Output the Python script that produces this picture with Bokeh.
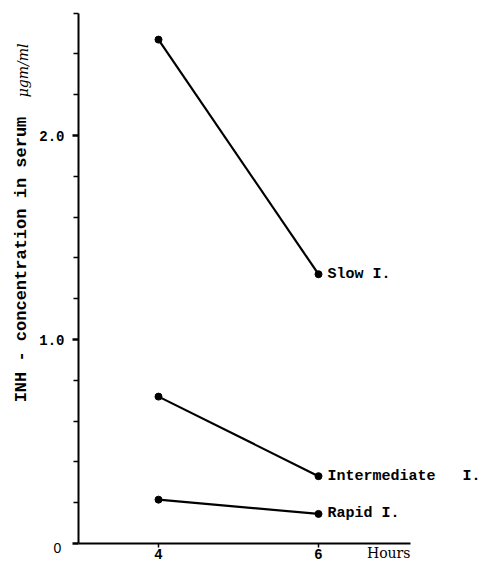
import math
from bokeh.plotting import figure
from bokeh.models import FixedTicker, Label
from bokeh.embed import file_html
from bokeh.resources import INLINE

# ---- data ----
hours = [4, 6]
slow = [2.47, 1.32]
intermediate = [0.72, 0.33]
rapid = [0.215, 0.145]
NB = "\u00a0"
series_names = ["Slow I.", "Intermediate" + NB * 3 + "I.", "Rapid I."]

y_major = [0, 1, 2]
y_major_labels = ["0", "1.0", "2.0"]
y_minor = [0.2, 0.4, 0.6, 0.8, 1.2, 1.4, 1.6, 1.8, 2.2, 2.4, 2.6]
x_ticks = [4, 6]
x_tick_labels = ["4", "6"]
x_title = "Hours"
y_title = "INH - concentration in serum"
y_unit = "\u03bcgm/ml"

MONO = "Liberation Mono"
W, H = 480, 562
X0, X1 = 2.025, 2.025 + W / 80.0          # 80 px per hour
Y1 = 543 / 204.0                            # 204 px per ug/ml
Y0 = -(H - 543) / 204.0

p = figure(width=W, height=H, x_range=(X0, X1), y_range=(Y0, Y1),
           output_backend="svg", toolbar_location=None,
           min_border=0, min_border_left=0, min_border_right=0,
           min_border_top=0, min_border_bottom=0)
p.outline_line_color = None
p.xgrid.visible = False
p.ygrid.visible = False
p.background_fill_color = "white"
p.border_fill_color = "white"

# y axis, drawn at x = 3 h
p.yaxis.fixed_location = 3
p.yaxis.bounds = (0, 2.6)
p.yaxis.ticker = FixedTicker(ticks=y_major, minor_ticks=y_minor)
p.yaxis.major_label_overrides = {t: (l if t != 0 else "") for t, l in zip(y_major, y_major_labels)}
p.yaxis.axis_line_width = 2
p.yaxis.major_tick_in = 0
p.yaxis.major_tick_out = 6
p.yaxis.major_tick_line_width = 2.5
p.yaxis.minor_tick_in = 0
p.yaxis.minor_tick_out = 5
p.yaxis.minor_tick_line_width = 1.5
p.yaxis.major_label_standoff = 8
p.yaxis.major_label_text_font = MONO
p.yaxis.major_label_text_font_style = "bold"
p.yaxis.major_label_text_font_size = "14px"
p.yaxis.major_label_text_color = "black"

# x axis, drawn at y = 0
p.xaxis.fixed_location = 0
p.xaxis.bounds = (3, 7.15)
p.xaxis.ticker = FixedTicker(ticks=x_ticks, minor_ticks=[])
p.xaxis.major_label_overrides = {t: l for t, l in zip(x_ticks, x_tick_labels)}
p.xaxis.axis_line_width = 2
p.xaxis.major_tick_in = 0
p.xaxis.major_tick_out = 4
p.xaxis.major_tick_line_width = 1.5
p.xaxis.major_label_standoff = 1
p.xaxis.major_label_text_font = "Liberation Sans"
p.xaxis.major_label_text_font_style = "bold"
p.xaxis.major_label_text_font_size = "14px"
p.xaxis.major_label_text_color = "black"

# series
for vals in (slow, intermediate, rapid):
    p.line(hours, vals, line_width=2.2, line_color="black")
    p.scatter(hours, vals, size=7, color="black")

# series labels at the 6-hour points
for name, vals in zip(series_names, (slow, intermediate, rapid)):
    p.add_layout(Label(x=hours[-1], y=vals[-1], text=name, x_offset=9,
                       text_baseline="middle", text_align="left",
                       text_font=MONO, text_font_style="bold",
                       text_font_size="15px", text_color="black"))

# zero label
p.add_layout(Label(x=3, y=-0.0245, text=y_major_labels[0], x_offset=-21,
                   text_align="center", text_baseline="middle",
                   text_font="Liberation Sans", text_font_size="14px", text_color="black"))

# axis titles
p.add_layout(Label(x=3, y=1.392, text=y_title, x_offset=-57, angle=math.pi / 2,
                   text_align="center", text_baseline="middle",
                   text_font=MONO, text_font_style="bold",
                   text_font_size="17px", text_color="black"))
p.add_layout(Label(x=3, y=2.319, text=y_unit, x_offset=-56, angle=math.pi / 2,
                   text_align="center", text_baseline="middle",
                   text_font="DejaVu Serif", text_font_style="italic",
                   text_font_size="14px", text_color="black"))
p.add_layout(Label(x=7.15, y=-0.049, text=x_title,
                   text_align="right", text_baseline="middle",
                   text_font="DejaVu Serif", text_font_size="14px", text_color="black"))

open("out.html", "w").write(file_html(p, INLINE))
